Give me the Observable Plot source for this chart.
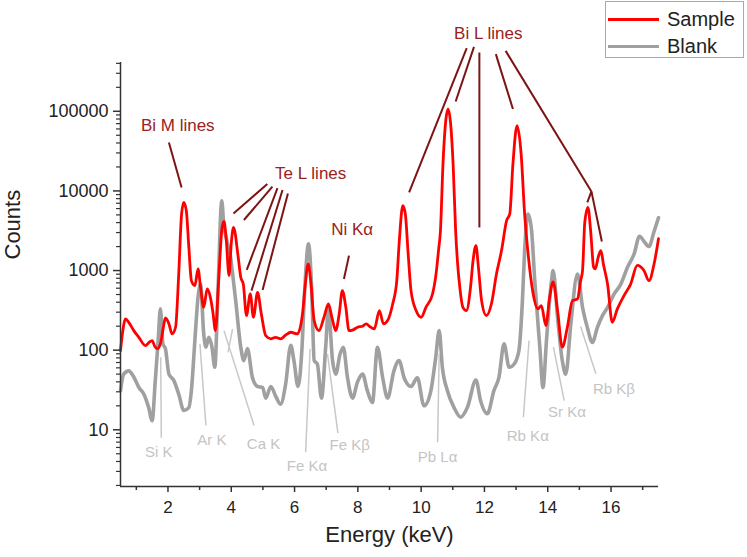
<!DOCTYPE html>
<html>
<head>
<meta charset="utf-8">
<script src="https://cdn.jsdelivr.net/npm/d3@7"></script>
<script src="https://cdn.jsdelivr.net/npm/@observablehq/plot@0.6"></script>
<style>
  body { margin: 0; background: white; }
  #wrap { position: relative; width: 747px; height: 557px; font-family: "Liberation Sans", Arial, sans-serif; }
  #legend { position: absolute; left: 605px; top: 1px; width: 137px; height: 55px; border: 1px solid #aaa; background: white; }
  .row { position: absolute; left: 0; height: 26px; display: flex; align-items: center; font-size: 20px; color: #222; }
  .sw { width: 51px; height: 0; margin-left: 2px; margin-right: 8px; }
</style>
</head>
<body>
<div id="wrap"><div id="legend"></div></div>
<script>
// ---- Data ----
const sampleEnergy = [0.50,0.56,0.66,0.76,0.92,1.08,1.29,1.40,1.50,1.58,1.66,1.76,1.86,1.92,2.03,2.13,2.24,2.34,2.43,2.50,2.58,2.66,2.74,2.85,2.95,3.03,3.13,3.24,3.34,3.42,3.50,3.60,3.71,3.77,3.84,3.93,4.00,4.07,4.22,4.30,4.38,4.48,4.60,4.70,4.83,4.95,5.09,5.25,5.40,5.56,5.72,5.88,6.09,6.25,6.33,6.43,6.51,6.62,6.77,6.93,7.07,7.18,7.30,7.41,7.51,7.62,7.72,7.85,7.99,8.15,8.26,8.40,8.52,8.68,8.81,8.94,9.10,9.23,9.31,9.42,9.50,9.59,9.68,9.84,10.00,10.15,10.36,10.47,10.55,10.61,10.69,10.85,11.01,11.09,11.17,11.20,11.32,11.43,11.56,11.64,11.73,11.81,11.91,12.06,12.22,12.38,12.54,12.70,12.80,12.90,13.03,13.16,13.27,13.38,13.54,13.69,13.80,13.94,14.06,14.17,14.31,14.46,14.62,14.78,14.94,15.04,15.10,15.17,15.27,15.36,15.45,15.50,15.60,15.68,15.76,15.89,16.04,16.20,16.41,16.62,16.83,17.04,17.20,17.36,17.50];
const sampleCounts = [99,160,247,224,176,145,114,125,132,112,104,120,200,254,214,160,194,906,5130,7180,5630,1950,747,646,1050,614,345,588,461,300,176,747,3480,4150,2500,863,2200,3480,1466,822,676,272,508,259,533,285,152,139,145,139,155,168,160,285,614,1210,747,235,176,259,380,259,176,285,560,345,176,180,194,200,214,195,185,314,214,235,380,747,2370,6520,5140,1615,560,314,259,345,508,900,1800,3160,21700,106700,21700,3160,1000,747,345,314,614,1330,2050,1097,419,272,380,906,1780,4230,5140,21700,65800,29000,5140,1615,508,330,363,204,461,720,314,109,194,419,440,747,1000,4000,6210,3000,1100,1047,1500,1780,1200,676,224,330,484,676,1160,1000,747,1210,2510];

const blankEnergy = [0.50,0.60,0.76,0.92,1.08,1.24,1.39,1.50,1.60,1.69,1.76,1.84,1.92,2.03,2.18,2.34,2.50,2.66,2.74,2.85,2.95,3.03,3.13,3.20,3.29,3.39,3.48,3.58,3.70,3.76,3.86,3.98,4.03,4.14,4.30,4.40,4.51,4.67,4.83,4.99,5.09,5.25,5.41,5.56,5.72,5.88,5.98,6.11,6.23,6.32,6.44,6.54,6.62,6.72,6.85,6.99,7.07,7.20,7.30,7.44,7.54,7.67,7.83,7.99,8.15,8.30,8.46,8.62,8.78,8.94,9.14,9.30,9.47,9.68,9.88,10.09,10.30,10.46,10.57,10.67,10.83,11.04,11.25,11.46,11.73,11.88,12.09,12.30,12.46,12.62,12.78,12.94,13.09,13.20,13.27,13.38,13.49,13.59,13.75,13.85,13.96,14.12,14.17,14.31,14.46,14.57,14.73,14.94,15.10,15.25,15.41,15.57,15.73,15.89,16.10,16.31,16.52,16.73,16.90,17.05,17.20,17.35,17.50];
const blankCounts = [31,50,55,46,34,28,19,13,42,132,330,120,104,50,42,28,17.5,19,31,132,461,676,160,109,145,109,61,560,7530,3850,2370,1466,1000,419,109,74,105,45,35,34,25,35,26,21,38,115,74,35,99,560,2160,600,74,67,25,120,330,74,50,90,109,46,25,40,50,31,22,109,46,25,55,74,44,35,45,20,30,81,176,61,31,19,14.4,19,42,23,15.9,31,46,120,61,67,99,419,1780,5140,3160,747,109,34,132,747,1000,259,74,50,214,906,345,194,125,194,272,345,508,676,1097,1615,2700,2300,2000,3000,4600];

const seriesNames = ["Sample", "Blank"];
const seriesColors = ["#ff0000", "#a0a0a0"];

const xTicks = [2,4,6,8,10,12,14,16];
const xMinorTicks = [1,3,5,7,9,11,13,15,17];
const yTicks = [10,100,1000,10000,100000];

// Peak annotations (data units: keV, counts)
const redLabelText = ["Bi M lines", "Te L lines", "Ni Kα", "Bi L lines"];
const redLabelE = [2.31, 6.51, 7.82, 12.12];
const redLabelC = [65800, 16400, 3260, 953000];
const redLinkE1 = [2.03, 5.14, 5.30, 5.46, 5.62, 5.79, 7.72, 11.44, 11.67, 11.84, 12.36, 12.67, 15.38, 15.38];
const redLinkC1 = [40600, 12200, 11300, 10870, 10250, 9310, 1540, 621000, 644000, 547000, 522000, 574000, 9860, 9860];
const redLinkE2 = [2.43, 4.07, 4.40, 4.49, 4.64, 4.99, 7.56, 9.62, 11.09, 11.84, 12.90, 15.38, 15.25, 15.71];
const redLinkC2 = [11070, 5220, 4310, 1020, 560, 571, 785, 9570, 132700, 3480, 106700, 9860, 7180, 2320];

const grayLabelText = ["Si K", "Ar K", "Ca K", "Fe Kα", "Fe Kβ", "Pb Lα", "Rb Kα", "Sr Kα", "Rb Kβ"];
const grayLabelE = [1.71, 3.39, 5.02, 6.39, 7.74, 10.52, 13.37, 14.61, 16.09];
const grayLabelC = [5.19, 7.35, 6.54, 3.47, 6.35, 4.49, 8.36, 16.5, 32.1];
const grayLinkE1 = [1.79, 3.20, 4.72, 4.04, 6.35, 7.37, 10.52, 13.23, 14.52, 15.52];
const grayLinkC1 = [7.94, 11.3, 11.3, 185, 5.24, 9.06, 6.98, 14.4, 23.3, 50.5];
const grayLinkE2 = [1.77, 3.01, 3.77, 3.90, 6.49, 7.04, 10.57, 13.41, 14.18, 15.04];
const grayLinkC2 = [81.5, 120, 176, 94, 104, 90, 90, 132, 109, 198];

// ---- Build tables ----
const xMin = 0.5, xMax = 17.5, yMin = 1.94, yMax = 410000;
const sample = sampleEnergy.map((e, i) => ({e, c: sampleCounts[i]}));
const blank = blankEnergy.map((e, i) => ({e, c: blankCounts[i]}));
const redLabels = redLabelText.map((t, i) => ({t, e: redLabelE[i], c: redLabelC[i]}));
const redLinks = redLinkE1.map((e, i) => ({x1: e, y1: redLinkC1[i], x2: redLinkE2[i], y2: redLinkC2[i]}));
const grayLabels = grayLabelText.map((t, i) => ({t, e: grayLabelE[i], c: grayLabelC[i]}));
const grayLinks = grayLinkE1.map((e, i) => ({x1: e, y1: grayLinkC1[i], x2: grayLinkE2[i], y2: grayLinkC2[i]}));
const yMinor = [];
for (let k = 0; k <= 5; k++) for (let m = 2; m <= 9; m++) {
  const v = m * Math.pow(10, k);
  if (v > yMin && v < yMax) yMinor.push(v);
}

const chart = Plot.plot({
  width: 747,
  height: 557,
  marginLeft: 120,
  marginRight: 89,
  marginTop: 62,
  marginBottom: 71,
  style: {fontFamily: "Liberation Sans, Arial, sans-serif", background: "white", color: "#222"},
  x: {domain: [xMin, xMax]},
  y: {type: "log", domain: [yMin, yMax]},
  marks: [
    Plot.lineY(blank, {x: "e", y: "c", stroke: seriesColors[1], strokeWidth: 3.6, curve: "monotone-x"}),
    Plot.lineY(sample, {x: "e", y: "c", stroke: seriesColors[0], strokeWidth: 2.8, curve: "monotone-x"}),
    Plot.link(grayLinks, {x1: "x1", y1: "y1", x2: "x2", y2: "y2", stroke: "#c8c8c8", strokeWidth: 1.5}),
    Plot.link(redLinks, {x1: "x1", y1: "y1", x2: "x2", y2: "y2", stroke: "#7d1414", strokeWidth: 2}),
    Plot.text(grayLabels, {x: "e", y: "c", text: "t", fill: "#c4c4c4", fontSize: 15}),
    Plot.text(redLabels, {x: "e", y: "c", text: "t", fill: "#9a2222", fontSize: 17}),
    Plot.ruleX([xMin], {stroke: "#333", strokeWidth: 1.5}),
    Plot.ruleY([yMin], {stroke: "#333", strokeWidth: 1.5}),
    Plot.axisX({ticks: xTicks, tickSize: 6, tickPadding: 8, fontSize: 17, label: null, stroke: "#333", strokeWidth: 1.5}),
    Plot.axisX({ticks: xMinorTicks, tickSize: 4, text: null, label: null, stroke: "#333", strokeWidth: 1.5}),
    Plot.axisY({ticks: yTicks, tickSize: 7, tickPadding: 5, fontSize: 18, tickFormat: d => String(d), label: null, stroke: "#333", strokeWidth: 1.5}),
    Plot.axisY({ticks: yMinor, tickSize: 4, text: null, label: null, stroke: "#333", strokeWidth: 1.2}),
    Plot.text(["Energy (keV)"], {frameAnchor: "bottom", dy: 55, fontSize: 22, fill: "#222"}),
    Plot.text(["Counts"], {frameAnchor: "left", dx: -108, dy: -15, rotate: -90, fontSize: 22, fill: "#222"})
  ]
});
const wrap = document.getElementById("wrap");
wrap.insertBefore(chart, wrap.firstChild);

// Legend
const legend = document.getElementById("legend");
seriesNames.forEach((name, i) => {
  const row = document.createElement("div");
  row.className = "row";
  row.style.top = (i === 0 ? 4 : 31) + "px";
  const sw = document.createElement("div");
  sw.className = "sw";
  sw.style.borderTop = "3px solid " + seriesColors[i];
  const label = document.createElement("span");
  label.textContent = name;
  row.appendChild(sw);
  row.appendChild(label);
  legend.appendChild(row);
});
</script>
</body>
</html>
